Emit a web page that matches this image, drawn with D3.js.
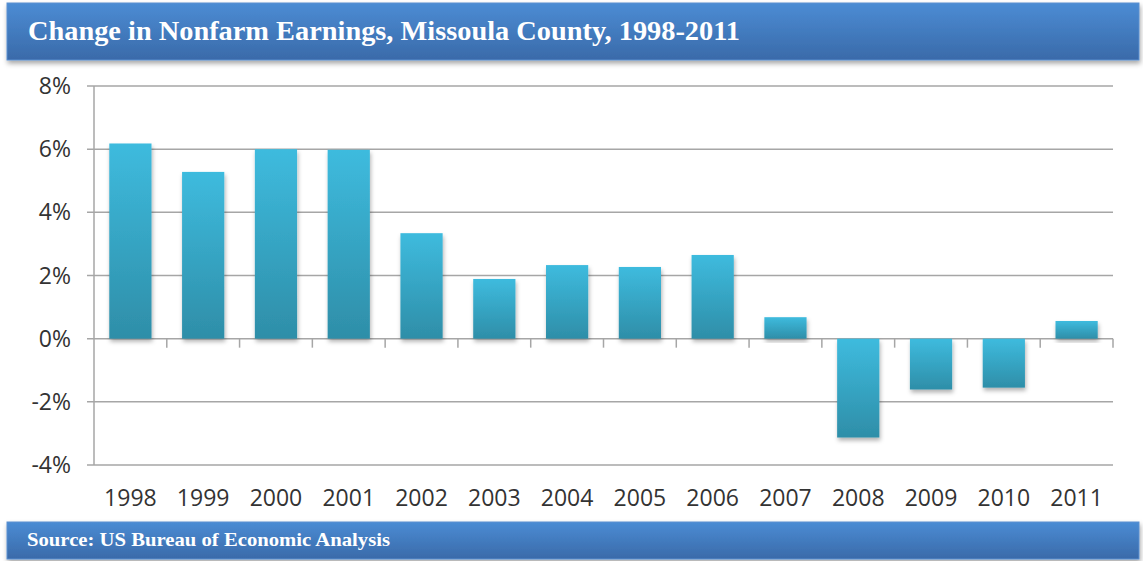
<!DOCTYPE html>
<html>
<head>
<meta charset="utf-8">
<script src="https://cdn.jsdelivr.net/npm/d3@7"></script>
<style>
  body { margin: 0; background: #fff; }
  svg { display: block; }
</style>
</head>
<body>
<div id="chart"></div>
<script>
// Data
const years = ['1998', '1999', '2000', '2001', '2002', '2003', '2004', '2005', '2006', '2007', '2008', '2009', '2010', '2011'];
const changes = [6.18, 5.28, 6.0, 5.98, 3.34, 1.89, 2.33, 2.27, 2.65, 0.68, -3.13, -1.61, -1.55, 0.56];
const yTicks = [-4, -2, 0, 2, 4, 6, 8];
const titleText = 'Change in Nonfarm Earnings, Missoula County, 1998-2011';
const sourceText = 'Source: US Bureau of Economic Analysis';

const width = 1143;
const height = 561;

const svg = d3.select('#chart')
    .append('svg')
    .attr('width', width)
    .attr('height', height);

const defs = svg.append('defs');

// Blue header/footer gradient
const bandGrad = defs.append('linearGradient')
    .attr('id', 'band-grad')
    .attr('x1', 0).attr('y1', 0).attr('x2', 0).attr('y2', 1);
bandGrad.append('stop').attr('offset', '0%').attr('stop-color', '#4b8cd4');
bandGrad.append('stop').attr('offset', '100%').attr('stop-color', '#3a6aa9');

// Bar gradient, lighter at the top
const barGrad = defs.append('linearGradient')
    .attr('id', 'bar-grad')
    .attr('x1', 0).attr('y1', 0).attr('x2', 0).attr('y2', 1);
barGrad.append('stop').attr('offset', '0%').attr('stop-color', '#3ebbde');
barGrad.append('stop').attr('offset', '100%').attr('stop-color', '#2e8ea8');

const shadow = defs.append('filter')
    .attr('id', 'shadow')
    .attr('x', '-10%').attr('y', '-10%')
    .attr('width', '130%').attr('height', '160%');
shadow.append('feDropShadow')
    .attr('dx', 1).attr('dy', 3)
    .attr('stdDeviation', 2.5)
    .attr('flood-color', '#000')
    .attr('flood-opacity', 0.35);

const barShadow = defs.append('filter')
    .attr('id', 'bar-shadow')
    .attr('x', '-20%').attr('y', '-10%')
    .attr('width', '140%').attr('height', '130%');
barShadow.append('feDropShadow')
    .attr('dx', 1).attr('dy', 3)
    .attr('stdDeviation', 2)
    .attr('flood-color', '#000')
    .attr('flood-opacity', 0.3);

// Header band
svg.append('rect')
    .attr('x', 7).attr('y', 3)
    .attr('width', 1132).attr('height', 57)
    .attr('fill', 'url(#band-grad)')
    .attr('stroke', '#5b8fcf')
    .attr('stroke-width', 1)
    .attr('filter', 'url(#shadow)');

svg.append('text')
    .attr('x', 28).attr('y', 40)
    .attr('fill', '#fff')
    .attr('font-family', '"Liberation Serif", "DejaVu Serif", serif')
    .attr('font-weight', 'bold')
    .attr('font-size', 27)
    .attr('textLength', 712)
    .attr('lengthAdjust', 'spacingAndGlyphs')
    .text(titleText);

// Footer band
svg.append('rect')
    .attr('x', 7).attr('y', 522)
    .attr('width', 1132).attr('height', 37)
    .attr('fill', 'url(#band-grad)')
    .attr('stroke', '#5b8fcf')
    .attr('stroke-width', 1)
    .attr('filter', 'url(#shadow)');

svg.append('text')
    .attr('x', 27).attr('y', 546)
    .attr('fill', '#fff')
    .attr('font-family', '"Liberation Serif", "DejaVu Serif", serif')
    .attr('font-weight', 'bold')
    .attr('font-size', 19)
    .attr('textLength', 363)
    .attr('lengthAdjust', 'spacingAndGlyphs')
    .text(sourceText);

// Scales
const x = d3.scaleBand()
    .domain(years)
    .range([94, 1113])
    .paddingInner(0.42)
    .paddingOuter(0.21);

const xTickScale = d3.scaleBand().domain(years).range([94, 1113]);

const y = d3.scaleLinear()
    .domain([-4, 8])
    .range([465, 86]);

// Gridlines
svg.append('g')
    .selectAll('line')
    .data(yTicks)
    .join('line')
    .attr('x1', 87)
    .attr('x2', 1113)
    .attr('y1', d => y(d))
    .attr('y2', d => y(d))
    .attr('stroke', '#a6a6a6')
    .attr('stroke-width', 1.5);

// Y axis line
svg.append('line')
    .attr('x1', 94).attr('x2', 94)
    .attr('y1', y(8)).attr('y2', y(-4))
    .attr('stroke', '#a6a6a6')
    .attr('stroke-width', 1.5);

// Y labels
svg.append('g')
    .selectAll('text')
    .data(yTicks)
    .join('text')
    .attr('x', 71)
    .attr('y', d => y(d))
    .attr('dy', '0.35em')
    .attr('text-anchor', 'end')
    .attr('fill', '#333')
    .attr('font-family', '"Open Sans", "DejaVu Sans", sans-serif')
    .attr('font-size', 23)
    .text(d => d + '%');

// Category tick marks on the zero line
svg.append('g')
    .selectAll('line')
    .data(years)
    .join('line')
    .attr('x1', d => xTickScale(d) + xTickScale.bandwidth())
    .attr('x2', d => xTickScale(d) + xTickScale.bandwidth())
    .attr('y1', y(0))
    .attr('y2', y(0) + 9)
    .attr('stroke', '#a6a6a6')
    .attr('stroke-width', 1.5);

// Bars
svg.append('g')
    .selectAll('rect')
    .data(years.map((yr, i) => ({ year: yr, value: changes[i] })))
    .join('rect')
    .attr('x', d => x(d.year))
    .attr('width', x.bandwidth())
    .attr('y', d => y(Math.max(0, d.value)))
    .attr('height', d => Math.abs(y(d.value) - y(0)))
    .attr('fill', 'url(#bar-grad)')
    .attr('filter', 'url(#bar-shadow)');

// X labels
svg.append('g')
    .selectAll('text')
    .data(years)
    .join('text')
    .attr('x', d => xTickScale(d) + xTickScale.bandwidth() / 2)
    .attr('y', 506)
    .attr('text-anchor', 'middle')
    .attr('fill', '#333')
    .attr('font-family', '"Open Sans", "DejaVu Sans", sans-serif')
    .attr('font-size', 23)
    .text(d => d);
</script>
</body>
</html>
